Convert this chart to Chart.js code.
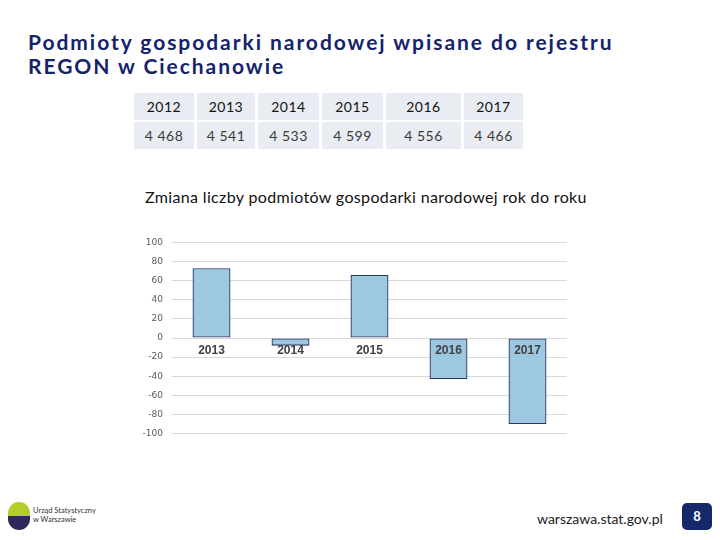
<!DOCTYPE html>
<html>
<head>
<meta charset="utf-8">
<script src="https://cdn.jsdelivr.net/npm/chart.js@4/dist/chart.umd.min.js"></script>
<style>
  body { margin: 0; width: 720px; height: 540px; background: #fff; position: relative; overflow: hidden; font-family: "Lato", "Open Sans", sans-serif; }
  #title { position: absolute; left: 28px; top: 30px; color: #14236a; font-size: 21px; font-weight: 700; line-height: 24px; letter-spacing: 1.95px; }
  #tbl { position: absolute; left: 134px; top: 91px; border-collapse: separate; border-spacing: 3px 2px; margin-left: -3px; }
  #tbl td { background: #e9ecf3; text-align: center; font-size: 14px; height: 27px; padding: 0; letter-spacing: 0.5px; }
  #tbl tr.h td { color: #111; }
  #tbl tr.v td { color: #3a3a3a; }
  #ctitle { position: absolute; left: 145px; top: 187px; font-size: 16px; color: #111; letter-spacing: 0.35px; }
  #wrap { position: absolute; left: 120px; top: 228px; width: 460px; height: 220px; }
  #url { position: absolute; left: 537px; top: 510px; font-size: 14px; color: #222; }
  #page { position: absolute; left: 682px; top: 503px; width: 30px; height: 27px; background: #14286a; border-radius: 5px; color: #fff; font-weight: bold; font-size: 13px; text-align: center; line-height: 27px; }
  #logo { position: absolute; left: 8px; top: 502px; width: 22px; height: 28px; }
  #logo .t { position: absolute; left: 0; top: 0; width: 22px; height: 14px; background: #b4cc2c; border-radius: 11px 11px 0 0; }
  #logo .b { position: absolute; left: 0; top: 14px; width: 22px; height: 14px; background: #2d2a5a; border-radius: 0 0 11px 11px; }
  #logotxt { position: absolute; left: 33px; top: 506px; font-size: 7.5px; line-height: 9px; color: #333; }
</style>
</head>
<body>
<div id="title">Podmioty gospodarki narodowej wpisane do rejestru<br>REGON w Ciechanowie</div>

<table id="tbl">
  <tr class="h" id="hrow"></tr>
  <tr class="v" id="vrow"></tr>
</table>

<div id="ctitle">Zmiana liczby podmiotów gospodarki narodowej rok do roku</div>
<div id="wrap"><canvas id="chart"></canvas></div>

<div id="logo"><div class="t"></div><div class="b"></div></div>
<div id="logotxt">Urząd Statystyczny<br>w Warszawie</div>
<div id="url">warszawa.stat.gov.pl</div>
<div id="page">8</div>

<script>
// dane z tabeli
const lata = ['2012', '2013', '2014', '2015', '2016', '2017'];
const liczbaPodmiotow = ['4 468', '4 541', '4 533', '4 599', '4 556', '4 466'];
const szerokosci = [60, 58, 61, 61, 75, 59];

// dane do wykresu
const kategorie = ['2013', '2014', '2015', '2016', '2017'];
const zmiana = [73, -8, 66, -43, -90];

// tabela
const hrow = document.getElementById('hrow');
const vrow = document.getElementById('vrow');
lata.forEach((rok, i) => {
  const h = document.createElement('td');
  h.textContent = rok;
  h.style.width = szerokosci[i] + 'px';
  hrow.appendChild(h);
  const v = document.createElement('td');
  v.textContent = liczbaPodmiotow[i];
  vrow.appendChild(v);
});

// etykiety osi X przy linii zera
const etykietyPrzyZerze = {
  id: 'etykietyPrzyZerze',
  afterDatasetsDraw(chart) {
    const ctx = chart.ctx;
    const x = chart.scales.x;
    const y = chart.scales.y;
    ctx.save();
    ctx.font = 'bold 12px "Liberation Sans Narrow", "Liberation Sans", sans-serif';
    ctx.fillStyle = '#404040';
    ctx.textAlign = 'center';
    ctx.textBaseline = 'middle';
    kategorie.forEach((k, i) => {
      ctx.fillText(k, x.getPixelForValue(i), y.getPixelForValue(0) + 13);
    });
    ctx.restore();
  }
};

new Chart(document.getElementById('chart'), {
  type: 'bar',
  data: {
    labels: kategorie,
    datasets: [{
      data: zmiana,
      backgroundColor: '#9dc8e1',
      borderColor: '#1f3864',
      borderWidth: 1.3,
      borderSkipped: false,
      categoryPercentage: 1,
      barPercentage: 0.48
    }]
  },
  options: {
    responsive: true,
    maintainAspectRatio: false,
    animation: false,
    layout: { padding: { top: 9, right: 13, bottom: 9, left: 0 } },
    plugins: { legend: { display: false }, tooltip: { enabled: false } },
    scales: {
      x: { display: false },
      y: {
        min: -100,
        max: 100,
        afterFit(scale) { scale.width = 52; },
        ticks: { stepSize: 20, padding: 9, color: '#595959', font: { size: 9, family: 'DejaVu Sans' } },
        grid: { color: '#d9d9d9', drawTicks: false },
        border: { display: false }
      }
    }
  },
  plugins: [etykietyPrzyZerze]
});
</script>
</body>
</html>
